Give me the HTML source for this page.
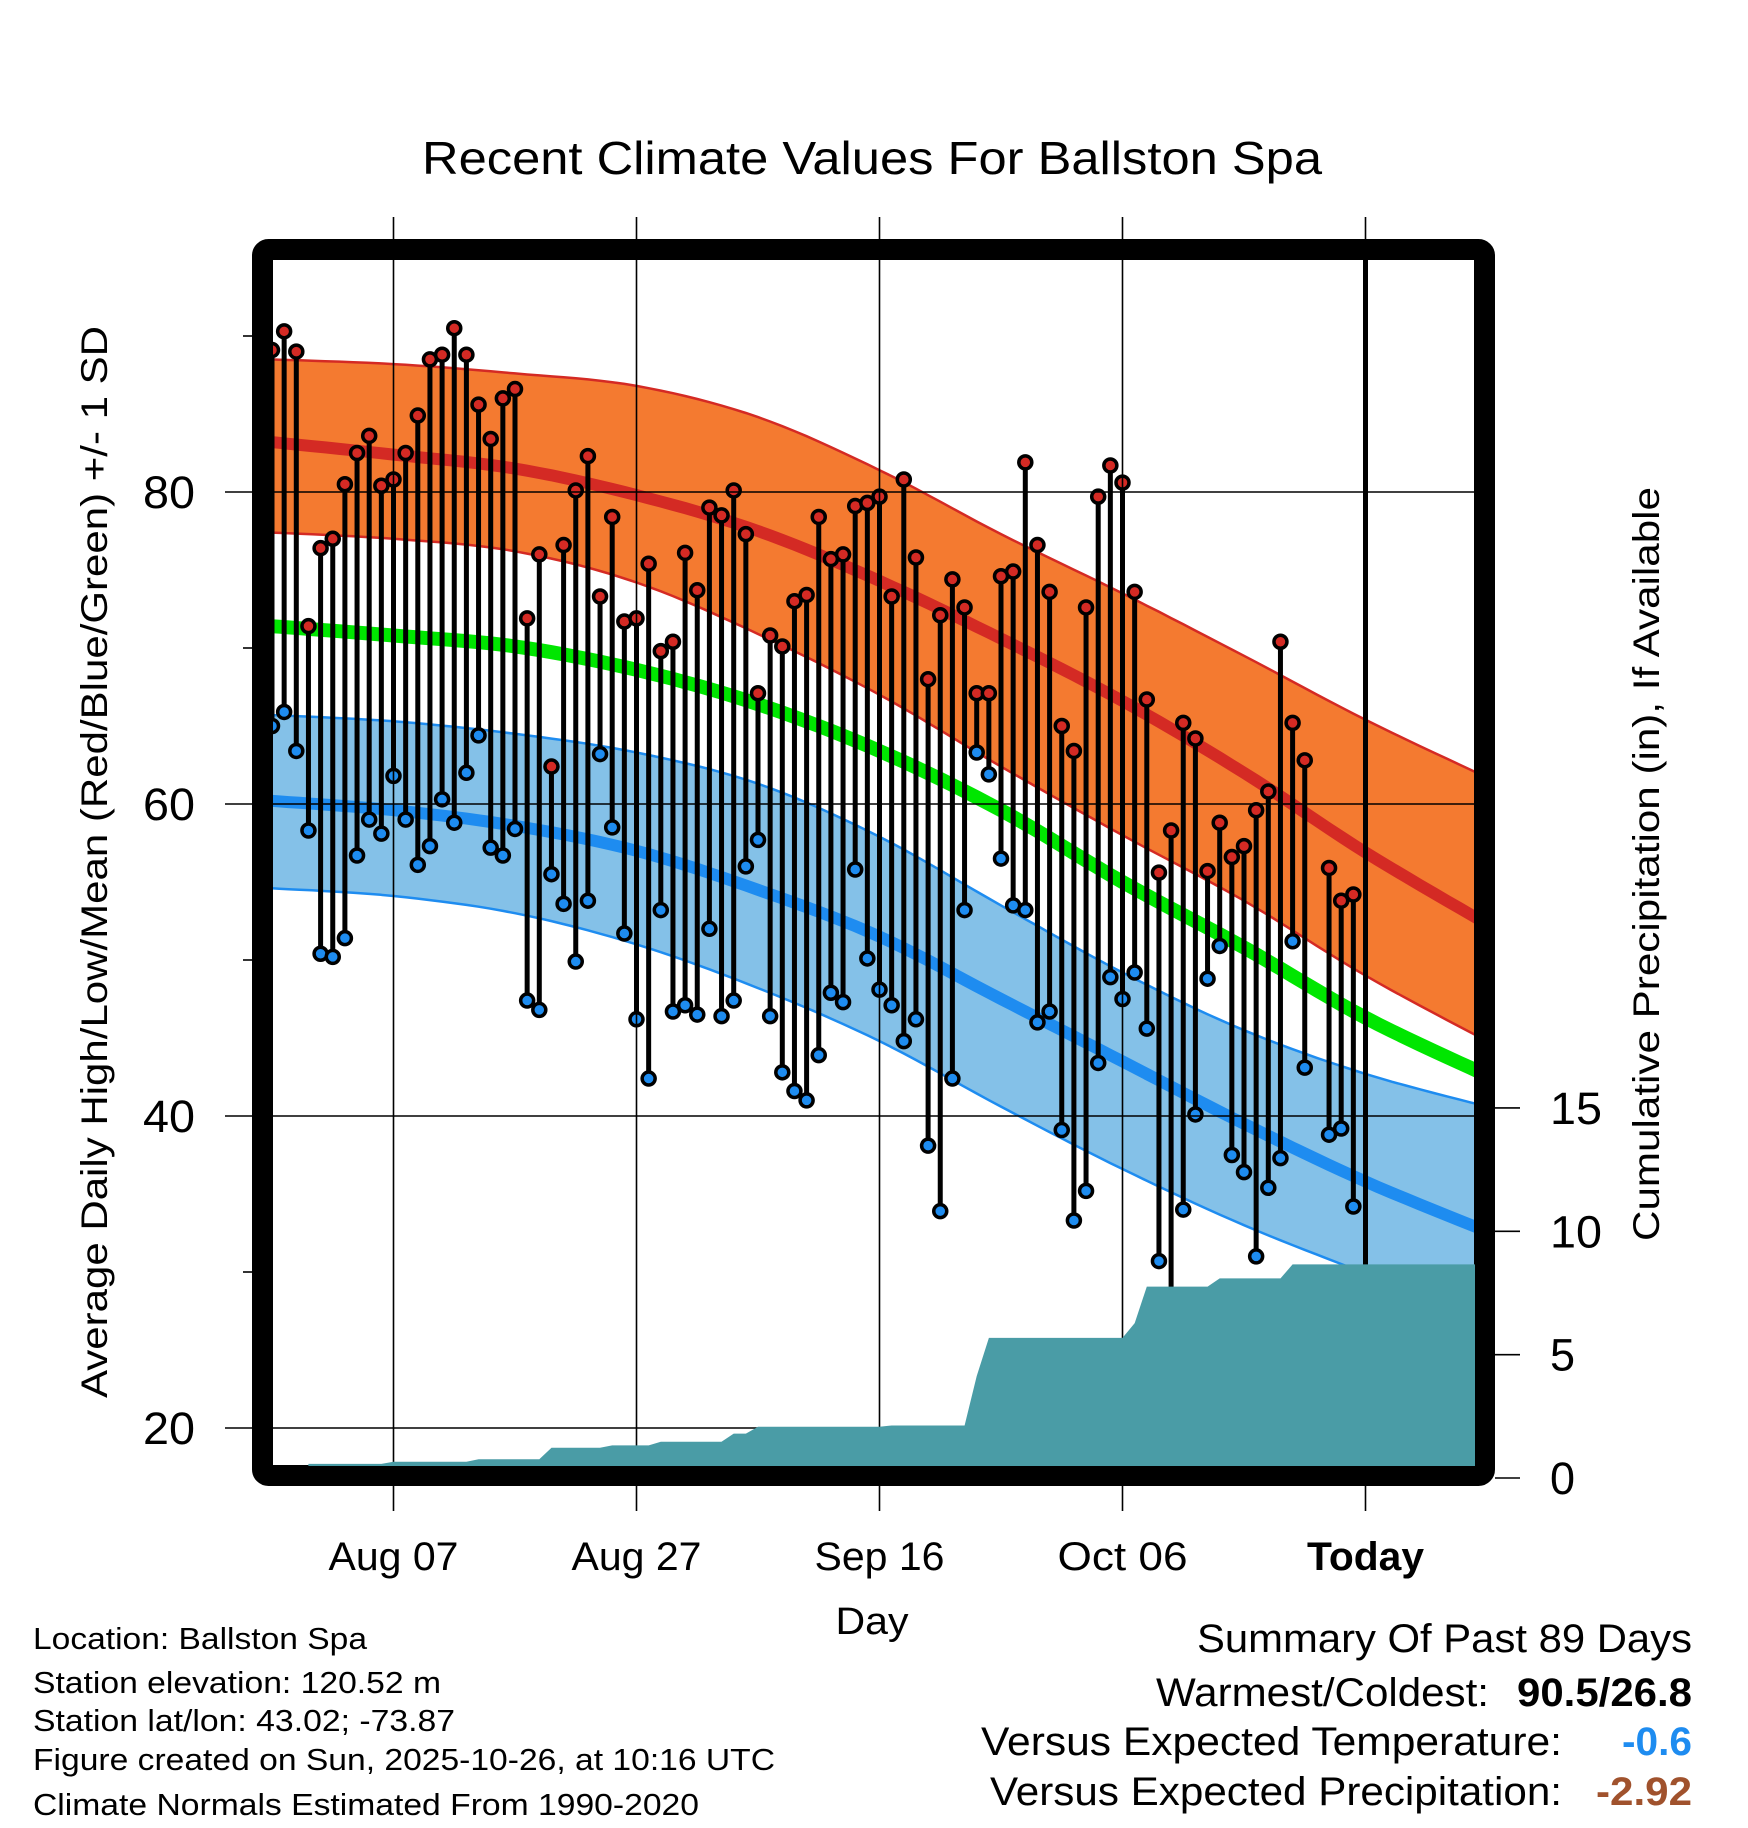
<!DOCTYPE html>
<html><head><meta charset="utf-8"><style>
body{margin:0;background:#fff;}
svg{display:block;font-family:"Liberation Sans",Arial,sans-serif;}
</style></head><body>
<svg id="chart" width="1748" height="1828" viewBox="0 0 1748 1828" xmlns="http://www.w3.org/2000/svg">
<defs><clipPath id="plotclip"><rect x="272" y="260" width="1203" height="1206"/></clipPath></defs>
<text x="872" y="174" font-size="46" text-anchor="middle" textLength="900" lengthAdjust="spacingAndGlyphs">Recent Climate Values For Ballston Spa</text>
<g id="plot" clip-path="url(#plotclip)"></g>
<g id="over"></g>
<text transform="translate(107,862) rotate(-90)" font-size="37" text-anchor="middle" textLength="1072" lengthAdjust="spacingAndGlyphs">Average Daily High/Low/Mean (Red/Blue/Green) +/- 1 SD</text>
<text transform="translate(1659,864) rotate(-90)" font-size="37" text-anchor="middle" textLength="754" lengthAdjust="spacingAndGlyphs">Cumulative Precipitation (in), If Available</text>
<text x="872" y="1634" font-size="38" text-anchor="middle" textLength="73" lengthAdjust="spacingAndGlyphs">Day</text>
<g font-size="31">
<text x="33" y="1649" textLength="334" lengthAdjust="spacingAndGlyphs">Location: Ballston Spa</text>
<text x="33" y="1693" textLength="408" lengthAdjust="spacingAndGlyphs">Station elevation: 120.52 m</text>
<text x="33" y="1731" textLength="422" lengthAdjust="spacingAndGlyphs">Station lat/lon: 43.02; -73.87</text>
<text x="33" y="1770" textLength="742" lengthAdjust="spacingAndGlyphs">Figure created on Sun, 2025-10-26, at 10:16 UTC</text>
<text x="33" y="1815" textLength="666" lengthAdjust="spacingAndGlyphs">Climate Normals Estimated From 1990-2020</text>
</g>
<g font-size="40">
<text x="1692" y="1652" text-anchor="end" textLength="495" lengthAdjust="spacingAndGlyphs">Summary Of Past 89 Days</text>
<text x="1489" y="1706" text-anchor="end" textLength="333" lengthAdjust="spacingAndGlyphs">Warmest/Coldest:</text>
<text x="1692" y="1706" text-anchor="end" font-weight="bold" textLength="175" lengthAdjust="spacingAndGlyphs">90.5/26.8</text>
<text x="1562" y="1755" text-anchor="end" textLength="581" lengthAdjust="spacingAndGlyphs">Versus Expected Temperature:</text>
<text x="1692" y="1755" text-anchor="end" font-weight="bold" fill="#1e8cf0" textLength="70" lengthAdjust="spacingAndGlyphs">-0.6</text>
<text x="1562" y="1805" text-anchor="end" textLength="572" lengthAdjust="spacingAndGlyphs">Versus Expected Precipitation:</text>
<text x="1692" y="1805" text-anchor="end" font-weight="bold" fill="#a0522d" textLength="96" lengthAdjust="spacingAndGlyphs">-2.92</text>
</g>
</svg>
<script>
const normDays=[0,10,20,30,40,50,60,70,80,90,100];
const redUpper=[88.5,88.2,87.6,86.8,84.8,81.4,77.3,73.5,69.5,65.4,61.7];
const redMean=[83.2,82.4,81.5,79.8,77.5,74.3,70.6,66.6,62.0,56.9,52.3];
const redLower=[77.4,77.0,76.2,74.2,70.9,67.0,62.4,58.0,53.8,49.0,44.8];
const greenMean=[71.4,70.8,70.1,68.6,66.4,63.4,59.6,55.0,50.8,46.3,42.6];
const blueUpper=[65.7,65.3,64.5,63.3,61.3,57.9,53.5,49.2,45.5,42.7,40.6];
const blueMean=[60.2,59.6,58.6,57.0,54.5,51.5,47.5,43.5,39.5,35.8,32.6];
const blueLower=[54.6,54.1,53.0,51.0,48.2,44.8,40.6,36.6,33.0,29.9,26.8];
const highs=[89.1,90.3,89.0,71.4,76.4,77.0,80.5,82.5,83.6,80.4,80.8,82.5,84.9,88.5,88.8,90.5,88.8,85.6,83.4,86.0,86.6,71.9,76.0,62.4,76.6,80.1,82.3,73.3,78.4,71.7,71.9,75.4,69.8,70.4,76.1,73.7,79.0,78.5,80.1,77.3,67.1,70.8,70.1,73.0,73.4,78.4,75.7,76.0,79.1,79.3,79.7,73.3,80.8,75.8,68.0,72.1,74.4,72.6,67.1,67.1,74.6,74.9,81.9,76.6,73.6,65.0,63.4,72.6,79.7,81.7,80.6,73.6,66.7,55.6,58.3,65.2,64.2,55.7,58.8,56.6,57.3,59.6,60.8,70.4,65.2,62.8,null,55.9,53.8,54.2];
const lows=[65.0,65.9,63.4,58.3,50.4,50.2,51.4,56.7,59.0,58.1,61.8,59.0,56.1,57.3,60.3,58.8,62.0,64.4,57.2,56.7,58.4,47.4,46.8,55.5,53.6,49.9,53.8,63.2,58.5,51.7,46.2,42.4,53.2,46.7,47.1,46.5,52.0,46.4,47.4,56.0,57.7,46.4,42.8,41.6,41.0,43.9,47.9,47.3,55.8,50.1,48.1,47.1,44.8,46.2,38.1,33.9,42.4,53.2,63.3,61.9,56.5,53.5,53.2,46.0,46.7,39.1,33.3,35.2,43.4,48.9,47.5,49.2,45.6,30.7,26.8,34.0,40.1,48.8,50.9,37.5,36.4,31.0,35.4,37.3,51.2,43.1,null,38.8,39.2,34.2];
const precipDays=[3,10,17,23,28,32,38,40,51,58,59,71,72,78,84];
const precipAmounts=[0.57,0.09,0.10,0.47,0.09,0.15,0.33,0.28,0.05,2.0,1.55,0.6,1.48,0.33,0.57];
const tempTicks=[20,40,60,80];
const minorTicks=[30,50,70,90];
const precipTicks=[0,5,10,15];
const xTickDays=[10,30,50,70,90];
const xTickLabels=["Aug 07","Aug 27","Sep 16","Oct 06","Today"];

const NS="http://www.w3.org/2000/svg";
const xS=i=>272+12.15*i;
const yS=t=>492+(80-t)*15.6;
const yP=p=>1478-p*24.67;
const plot=document.getElementById('plot');
const over=document.getElementById('over');
const svg=document.getElementById('chart');
function mk(tag,attrs,parent){const e=document.createElementNS(NS,tag);for(const k in attrs)e.setAttribute(k,attrs[k]);parent.appendChild(e);return e;}
function curvePts(arr){
  const P=normDays.map((d,k)=>[xS(d),yS(arr[k])]);
  const out=[];
  for(let k=0;k<P.length-1;k++){
    const p0=P[Math.max(k-1,0)],p1=P[k],p2=P[k+1],p3=P[Math.min(k+2,P.length-1)];
    for(let s=0;s<10;s++){
      const t=s/10,t2=t*t,t3=t2*t;
      const f=(a,b,c,d)=>0.5*((2*b)+(-a+c)*t+(2*a-5*b+4*c-d)*t2+(-a+3*b-3*c+d)*t3);
      out.push([f(p0[0],p1[0],p2[0],p3[0]),f(p0[1],p1[1],p2[1],p3[1])]);
    }
  }
  out.push(P[P.length-1]);
  return out.map(p=>p[0].toFixed(1)+','+p[1].toFixed(1));
}
function band(up,lo,fill,name){
  const p=mk('polygon',{points:curvePts(up).concat(curvePts(lo).reverse()).join(' '),fill:fill},plot);
  
  
}
function line(arr,color,w,name){
  const p=mk('polyline',{points:curvePts(arr).join(' '),fill:'none',stroke:color,'stroke-width':w},plot);
  
  
}
band(redUpper,redLower,'#f47a30','high-sd-band');
line(redUpper,'#d42a24',2.5,'high-upper-line');
line(redLower,'#d42a24',2.5,'high-lower-line');
line(redMean,'#d42a24',12,'normal-high-line');
line(greenMean,'#00e600',14,'normal-mean-line');
band(blueUpper,blueLower,'#84c1e8','low-sd-band');
line(blueUpper,'#1e8cf0',2.5,'low-upper-line');
line(blueLower,'#1e8cf0',2.5,'low-lower-line');
line(blueMean,'#1e8cf0',12,'normal-low-line');

tempTicks.forEach(t=>{
  const l=mk('line',{x1:225,x2:1490,y1:yS(t),y2:yS(t),stroke:'#000','stroke-width':1.6},svg);
  
  
  const tx=mk('text',{x:195,y:yS(t)+16,'font-size':45,'text-anchor':'end',textLength:52,lengthAdjust:'spacingAndGlyphs'},svg);
  tx.textContent=t;
  
  
});
minorTicks.forEach(t=>{
  const l=mk('line',{x1:243,x2:258,y1:yS(t),y2:yS(t),stroke:'#000','stroke-width':1.6},svg);
  
  
});
xTickDays.forEach((d,k)=>{
  const l=mk('line',{x1:xS(d),x2:xS(d),y1:217,y2:1511,stroke:'#000','stroke-width':1.6},svg);
  
  
  const tx=mk('text',{x:xS(d),y:1570,'font-size':40,'text-anchor':'middle','font-weight':k==4?'bold':'normal',textLength:k==4?117:130,lengthAdjust:'spacingAndGlyphs'},svg);
  tx.textContent=xTickLabels[k];
  
  
});
precipTicks.forEach(p=>{
  const l=mk('line',{x1:1495,x2:1520,y1:yP(p),y2:yP(p),stroke:'#000','stroke-width':1.6},svg);
  
  
  const tx=mk('text',{x:1550,y:yP(p)+16,'font-size':45},svg);
  if(p>=10){tx.setAttribute('textLength',52);tx.setAttribute('lengthAdjust','spacingAndGlyphs');}
  tx.textContent=p;
  
  
});

const cum=[];let c=0;
for(let i=0;i<=100;i++){const k=precipDays.indexOf(i);if(k>=0)c+=precipAmounts[k];cum.push(c);}
let pp=[];const start=precipDays[0];
pp.push(xS(start)+','+yP(0));
for(let i=start;i<=100;i++)pp.push(xS(i).toFixed(1)+','+yP(cum[i]).toFixed(1));
pp.push(xS(100)+','+yP(0));
const area=mk('polygon',{points:pp.join(' '),fill:'#4a9ca6'},svg);
area.setAttribute('clip-path','url(#plotclip)');



highs.forEach((h,i)=>{
  const lo=lows[i];
  if(h==null||lo==null)return;
  const s=mk('line',{x1:xS(i),x2:xS(i),y1:yS(h),y2:yS(lo),stroke:'#000','stroke-width':5},over);
  
  
});
highs.forEach((h,i)=>{
  const lo=lows[i];
  if(h==null||lo==null)return;
  const a=mk('circle',{cx:xS(i),cy:yS(h),r:6.5,fill:'#d42a24',stroke:'#000','stroke-width':3.5},over);
  
  
  const b=mk('circle',{cx:xS(i),cy:yS(lo),r:6.5,fill:'#1e8cf0',stroke:'#000','stroke-width':3.5},over);
  
  
});
const tl=mk('line',{x1:xS(90),x2:xS(90),y1:250,y2:1476,stroke:'#000','stroke-width':5},over);


const t1=mk('text',{x:1372,y:1410,'font-size':38,'font-weight':'bold'},over);
t1.textContent='90';


const t2=mk('text',{x:1372,y:1458,'font-size':38,'font-weight':'bold',textLength:98,lengthAdjust:'spacingAndGlyphs'},over);
t2.textContent='Days';


const fr=mk('rect',{x:262.5,y:249.5,width:1222,height:1226,rx:6,fill:'none',stroke:'#000','stroke-width':21},over);


</script>
</body></html>
